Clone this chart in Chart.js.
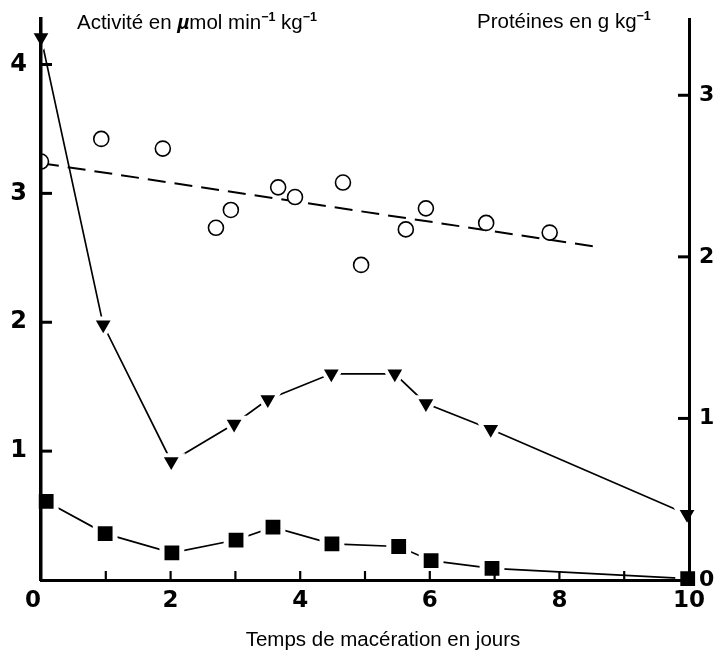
<!DOCTYPE html>
<html>
<head>
<meta charset="utf-8">
<script src="https://cdn.jsdelivr.net/npm/chart.js@4/dist/chart.umd.min.js"></script>
<style>
  html, body { margin: 0; padding: 0; background: #fff; }
  canvas { display: block; }
</style>
</head>
<body>
<canvas id="c" width="718" height="650"></canvas>
<script>
// ---- data ----
const circleDays = [0, 0.93, 1.88, 2.70, 2.93, 3.66, 3.92, 4.66, 4.94, 5.63, 5.94, 6.87, 7.85];
const proteins   = [2.59, 2.73, 2.67, 2.18, 2.29, 2.43, 2.37, 2.46, 1.95, 2.17, 2.30, 2.21, 2.15];
const trendDays     = [0, 8.61];
const trendProteins = [2.58, 2.06];
const triangleDays = [0, 0.96, 2.01, 2.98, 3.50, 4.48, 5.46, 5.94, 6.94, 9.97];
const activityA    = [4.21, 1.98, 0.92, 1.21, 1.40, 1.60, 1.60, 1.37, 1.17, 0.51];
const squareDays = [0.08, 0.99, 2.02, 3.01, 3.58, 4.49, 5.52, 6.02, 6.96, 9.98];
const activityB  = [0.61, 0.36, 0.21, 0.31, 0.41, 0.28, 0.26, 0.15, 0.09, 0.01];
const xTickLabels = {0: '0  ', 2: '2', 4: '4', 6: '6', 8: '8', 10: '10'};
const leftTickLabels = {1: '1', 2: '2', 3: '3', 4: '4'};
const rightTickLabels = {0: '0', 1: '1', 2: '2', 3: '3'};
const leftTitle = [['Activité en ', 'n'], ['µ', 'i'], ['mol min', 'n'], ['−1', 's'], [' kg', 'n'], ['−1', 's']];
const rightTitle = [['Protéines en g kg', 'n'], ['−1', 's']];
const xTitle = 'Temps de macération en jours';

const pts = (xs, ys) => xs.map((x, i) => ({x: x, y: ys[i]}));

const NUM_FONT = 'DejaVu Sans';
const TXT_FONT = 'Liberation Sans';

const decorPlugin = {
  id: 'decor',
  afterDraw(chart) {
    const ctx = chart.ctx;
    const a = chart.chartArea;
    const xs = chart.scales.x, yl = chart.scales.y, yr = chart.scales.y2;
    ctx.save();
    ctx.strokeStyle = '#000';
    ctx.lineCap = 'butt';
    // inward tick marks
    ctx.lineWidth = 3;
    yl.ticks.forEach(t => {
      if (t.value === 0) return;
      const y = yl.getPixelForValue(t.value);
      ctx.beginPath(); ctx.moveTo(a.left, y); ctx.lineTo(a.left + 11, y); ctx.stroke();
    });
    yr.ticks.forEach(t => {
      if (t.value === 0) return;
      const y = yr.getPixelForValue(t.value);
      ctx.beginPath(); ctx.moveTo(a.right - 11, y); ctx.lineTo(a.right, y); ctx.stroke();
    });
    ctx.lineWidth = 2.2;
    xs.ticks.forEach(t => {
      if (t.value === 0 || t.value === 10) return;
      const x = xs.getPixelForValue(t.value);
      ctx.beginPath(); ctx.moveTo(x, a.bottom); ctx.lineTo(x, a.bottom - 9); ctx.stroke();
    });
    // titles
    ctx.fillStyle = '#000';
    ctx.textBaseline = 'alphabetic';
    function rich(segs, x, y) {
      segs.forEach(([t, k]) => {
        if (k === 's') {
          ctx.font = 'bold 12.5px ' + TXT_FONT;
          ctx.fillText(t, x, y - 8);
        } else if (k === 'i') {
          ctx.font = 'italic bold 21px ' + TXT_FONT;
          ctx.fillText(t, x, y);
        } else {
          ctx.font = '20.5px ' + TXT_FONT;
          ctx.fillText(t, x, y);
        }
        x += ctx.measureText(t).width;
      });
    }
    ctx.textAlign = 'left';
    rich(leftTitle, 77, 29);
    rich(rightTitle, 477, 28);
    ctx.textAlign = 'center';
    ctx.font = '20.5px ' + TXT_FONT;
    ctx.fillText(xTitle, 383, 646);
    ctx.restore();
  }
};

const noPad = s => { s.paddingTop = 0; s.paddingBottom = 0; s.paddingLeft = 0; s.paddingRight = 0; };

new Chart(document.getElementById('c'), {
  type: 'line',
  data: {
    datasets: [
      {
        label: 'Protéines',
        type: 'scatter',
        data: pts(circleDays, proteins),
        yAxisID: 'y2',
        showLine: false,
        pointStyle: 'circle',
        pointRadius: 7.5,
        pointBorderWidth: 1.6,
        pointBorderColor: '#000',
        pointBackgroundColor: '#fff'
      },
      {
        label: 'Régression',
        data: pts(trendDays, trendProteins),
        yAxisID: 'y2',
        borderColor: '#000',
        borderWidth: 2,
        borderDash: [18, 9],
        pointRadius: 0,
        fill: false
      },
      {
        label: 'Activité A',
        data: pts(triangleDays, activityA),
        yAxisID: 'y',
        borderColor: '#000',
        borderWidth: 1.7,
        pointStyle: 'triangle',
        rotation: 180,
        pointRadius: 12.5,
        pointBorderWidth: 4,
        pointBorderColor: '#fff',
        pointBackgroundColor: '#000',
        clip: false,
        fill: false
      },
      {
        label: 'Activité B',
        data: pts(squareDays, activityB),
        yAxisID: 'y',
        borderColor: '#000',
        borderWidth: 1.7,
        pointStyle: 'rect',
        pointRadius: 14,
        pointBorderWidth: 5,
        pointBorderColor: '#fff',
        pointBackgroundColor: '#000',
        clip: false,
        fill: false
      }
    ]
  },
  options: {
    responsive: false,
    animation: false,
    devicePixelRatio: 1,
    layout: { padding: { top: 13, left: 0, right: 0, bottom: 0 } },
    plugins: { legend: { display: false }, tooltip: { enabled: false }, title: { display: false } },
    elements: { line: { tension: 0 } },
    scales: {
      x: {
        type: 'linear', position: 'bottom', min: 0, max: 10,
        afterFit: s => { s.height = 70; noPad(s); },
        grid: { drawOnChartArea: false, drawTicks: false },
        border: { display: true, width: 3, color: '#000', z: 1 },
        ticks: {
          stepSize: 1, autoSkip: false, maxRotation: 0, includeBounds: false,
          padding: 7, color: '#000', z: 1,
          font: { family: NUM_FONT, size: 23, weight: 'bold' },
          callback: v => (xTickLabels[v] !== undefined ? xTickLabels[v] : '')
        }
      },
      y: {
        type: 'linear', position: 'left', min: 0, max: 4.353,
        afterFit: s => { s.width = 41; noPad(s); },
        grid: { drawOnChartArea: false, drawTicks: false },
        border: { display: true, width: 3.5, color: '#000', z: 1 },
        ticks: {
          stepSize: 1, includeBounds: false, padding: 14, color: '#000', z: 1,
          font: { family: NUM_FONT, size: 24, weight: 'bold' },
          callback: v => (leftTickLabels[v] !== undefined ? leftTickLabels[v] : '')
        }
      },
      y2: {
        type: 'linear', position: 'right', min: 0, max: 3.472,
        afterFit: s => { s.width = 29; noPad(s); },
        grid: { drawOnChartArea: false, drawTicks: false },
        border: { display: true, width: 3, color: '#000', z: 1 },
        ticks: {
          stepSize: 1, includeBounds: false, padding: 10, color: '#000', z: 1,
          font: { family: NUM_FONT, size: 22, weight: 'bold' },
          callback: v => (rightTickLabels[v] !== undefined ? rightTickLabels[v] : '')
        }
      }
    }
  },
  plugins: [decorPlugin]
});
</script>
</body>
</html>
